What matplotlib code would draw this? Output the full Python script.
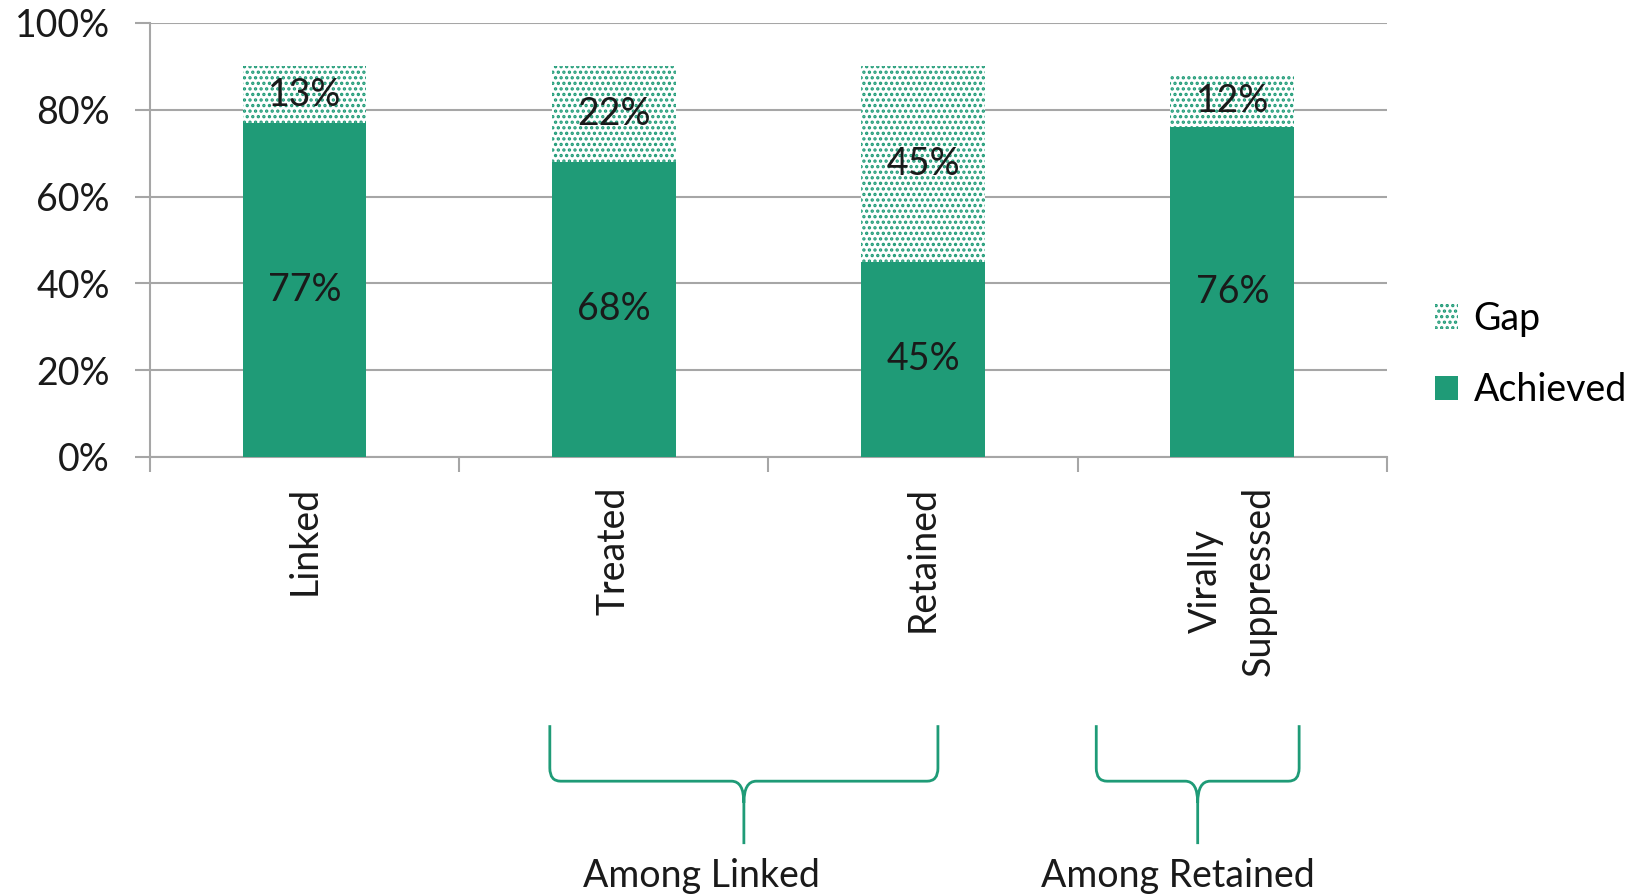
import matplotlib

matplotlib.use("Agg")
import matplotlib.pyplot as plt
from matplotlib.patches import Patch, PathPatch
from matplotlib.path import Path
from matplotlib.ticker import FixedLocator, PercentFormatter

# data
categories = ["Linked", "Treated", "Retained", "Virally\nSuppressed"]
achieved = [77, 68, 45, 76]
gap = [13, 22, 45, 12]

# group braces: (left end, right end, caption) in category units
groups = [(0.793, 2.048, "Among Linked"), (2.56, 3.216, "Among Retained")]

GREEN = "#1f9b77"
GRID = "#a6a6a6"
TEXT = "#1a1a1a"
FS = 27

plt.rcParams["font.family"] = ["Lato", "DejaVu Sans"]
plt.rcParams["hatch.linewidth"] = 1.6

fig = plt.figure(figsize=(16.48, 8.96), dpi=100)
ax = fig.add_axes([0.091, 0.49, 0.7506, 0.4844])

x = list(range(len(categories)))
bar_width = 0.4
ax.bar(x, achieved, width=bar_width, color=GREEN, linewidth=0, zorder=3,
       label="Achieved")
ax.bar(x, gap, bottom=achieved, width=bar_width, facecolor="white",
       edgecolor=GREEN, linewidth=0, hatch="...", zorder=3, label="Gap")

for xi, a, g in zip(x, achieved, gap):
    ax.text(xi, a / 2, f"{a}%", ha="center", va="center", fontsize=FS,
            color=TEXT, zorder=4)
    ax.text(xi, a + g / 2, f"{g}%", ha="center", va="center", fontsize=FS,
            color=TEXT, zorder=4)

ax.set_xlim(-0.5, len(categories) - 0.5)
ax.set_ylim(0, 100)
ax.yaxis.set_major_locator(FixedLocator([0, 20, 40, 60, 80, 100]))
ax.yaxis.set_major_formatter(PercentFormatter(decimals=0))
ax.grid(axis="y", color=GRID, linewidth=1.5, zorder=0)

# boundary ticks on x, labels on minor ticks at bar centres
ax.xaxis.set_major_locator(FixedLocator([i - 0.5 for i in range(len(categories) + 1)]))
ax.xaxis.set_minor_locator(FixedLocator(x))
ax.set_xticklabels([], minor=False)
ax.set_xticklabels(categories, minor=True, rotation=90, fontsize=FS,
                   color=TEXT, multialignment="center", linespacing=1.6)
ax.tick_params(axis="x", which="major", length=11, width=1.5, color=GRID)
ax.tick_params(axis="x", which="minor", length=0, pad=21)
ax.tick_params(axis="y", length=11, width=1.5, color=GRID, pad=18,
               labelsize=FS, labelcolor=TEXT)

for side in ("top", "right"):
    ax.spines[side].set_visible(False)
for side in ("left", "bottom"):
    ax.spines[side].set_color(GRID)
    ax.spines[side].set_linewidth(1.5)

handles = [
    Patch(facecolor="white", edgecolor=GREEN, linewidth=0, hatch="..."),
    Patch(facecolor=GREEN, linewidth=0),
]
ax.legend(handles, ["Gap", "Achieved"], loc="center left",
          bbox_to_anchor=(1.039, 0.236), frameon=False, fontsize=FS,
          handlelength=0.62, handleheight=0.62, handletextpad=0.4,
          labelspacing=0.95, borderpad=0, borderaxespad=0)


def brace(x0, x1, top=-61.8, mid=-74.7, tip=-89.2):
    """Curly brace under the axis between x0 and x1 (data units)."""
    xc = (x0 + x1) / 2
    rx, ry = 0.035, 3.0
    cx, cy = 0.04, 5.0
    verts = [
        (x0, top), (x0, mid + ry), (x0, mid), (x0 + rx, mid),
        (xc - cx, mid), (xc, mid), (xc, mid - cy), (xc, tip),
        (xc, mid - cy), (xc, mid), (xc + cx, mid),
        (x1 - rx, mid), (x1, mid), (x1, mid + ry), (x1, top),
    ]
    codes = [
        Path.MOVETO, Path.LINETO, Path.CURVE3, Path.CURVE3,
        Path.LINETO, Path.CURVE3, Path.CURVE3, Path.LINETO,
        Path.MOVETO, Path.CURVE3, Path.CURVE3,
        Path.LINETO, Path.CURVE3, Path.CURVE3, Path.LINETO,
    ]
    return PathPatch(Path(verts, codes), facecolor="none", edgecolor=GREEN,
                     linewidth=2, clip_on=False)


caption_shift = [-0.136, -0.065]
for (x0, x1, caption), shift in zip(groups, caption_shift):
    ax.add_patch(brace(x0, x1))
    ax.text((x0 + x1) / 2 + shift, -96.5, caption, ha="center", va="center",
            fontsize=FS, color=TEXT, clip_on=False)

fig.savefig("out.png", dpi=100)
